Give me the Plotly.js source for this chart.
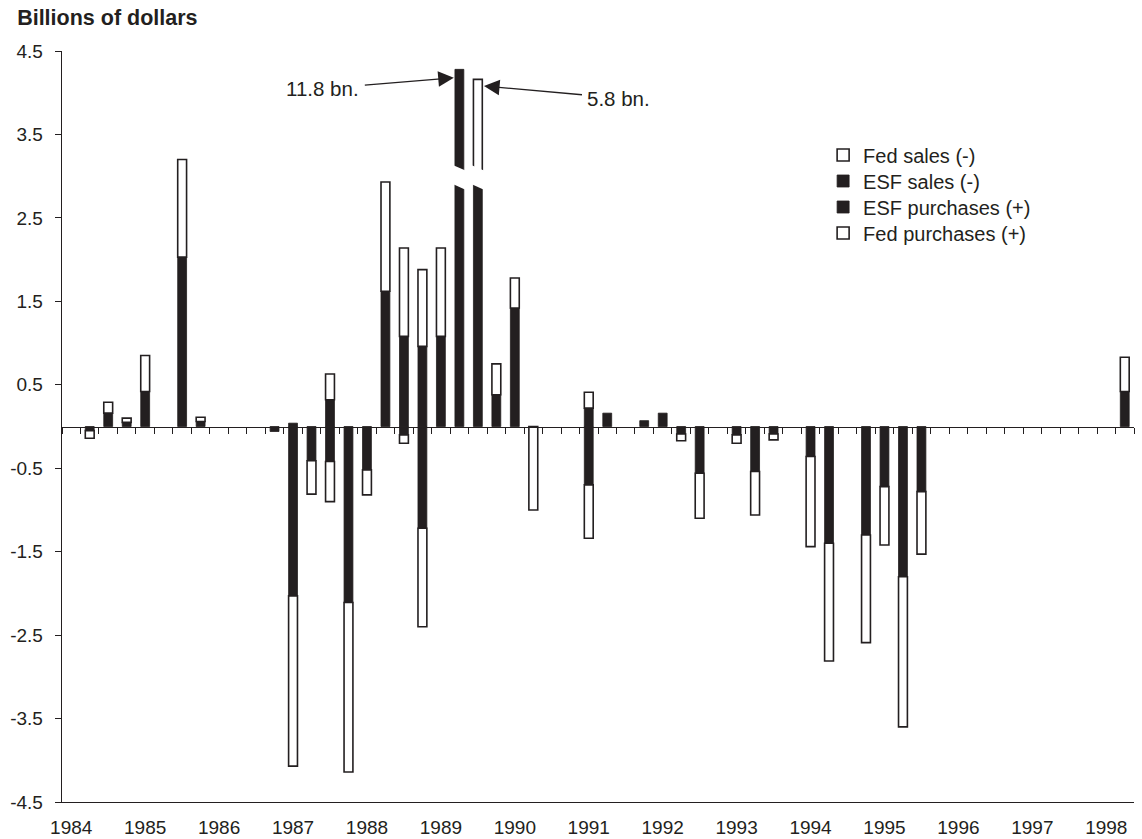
<!DOCTYPE html>
<html>
<head>
<meta charset="utf-8">
<script src="https://cdn.plot.ly/plotly-3.0.1.min.js"></script>
<style>html,body{margin:0;padding:0;background:#fff;}#chart{width:1142px;height:839px;}</style>
</head>
<body>
<div id="chart"></div>
<script>
// Quarterly categories 1984Q1 .. 1998Q2
var years = [1984,1985,1986,1987,1988,1989,1990,1991,1992,1993,1994,1995,1996,1997,1998];
var quarters = [];
years.forEach(function(y){ ['Q1','Q2','Q3','Q4'].forEach(function(q){ if(!(y===1998 && (q==='Q3'||q==='Q4'))) quarters.push(y+q); }); });

// Values in billions of dollars (as drawn; two 1989 bars are drawn with a scale break)
var esfSales = [null,-0.05,null,null, null,null,null,null, null,null,null,-0.06,
  -2.03,-0.41,-0.42,-2.11, -0.52,null,-0.10,-1.22, null,null,null,null, null,null,null,null,
  -0.70,null,null,null, null,-0.09,-0.56,null, -0.10,-0.54,-0.09,null, -0.36,-1.40,null,-1.30,
  -0.72,-1.80,-0.78,null, null,null,null,null, null,null,null,null, null,null];
var fedSales = [null,-0.09,null,null, null,null,null,null, null,null,null,null,
  -2.04,-0.40,-0.48,-2.03, -0.30,null,-0.10,-1.18, null,null,null,null, null,-1.00,null,null,
  -0.64,null,null,null, null,-0.08,-0.54,null, -0.10,-0.52,-0.07,null, -1.08,-1.41,null,-1.29,
  -0.70,-1.80,-0.75,null, null,null,null,null, null,null,null,null, null,null];
var esfPurchases = [null,null,0.16,0.05, 0.42,null,2.03,0.06, null,null,null,null,
  0.04,null,0.32,null, null,1.62,1.08,0.96, 1.08,4.28,3.00,0.38, 1.42,null,null,null,
  0.22,0.16,null,0.07, 0.16,null,null,null, null,null,null,null, null,null,null,null,
  null,null,null,null, null,null,null,null, null,null,null,null, null,0.42];
var fedPurchases = [null,null,0.13,0.05, 0.43,null,1.17,0.05, null,null,null,null,
  null,null,0.31,null, null,1.31,1.06,0.92, 1.06,null,1.16,0.37, 0.36,null,null,null,
  0.19,null,null,null, null,null,null,null, null,null,null,null, null,null,null,null,
  null,null,null,null, null,null,null,null, null,null,null,null, null,0.41];

var yTickVals = [-4.5,-3.5,-2.5,-1.5,-0.5,0.5,1.5,2.5,3.5,4.5];
var yTickLabels = ['-4.5','-3.5','-2.5','-1.5','-0.5','0.5','1.5','2.5','3.5','4.5'];

// Broken (off-scale) bars and their true totals
var breakQuarters = ['1989Q2','1989Q3'];
var breakLabels = ['11.8 bn.','5.8 bn.'];
var breakBand = [2.87, 3.10]; // value band removed by the break

var INK = '#231f20';
var FONT = 'Liberation Sans, Arial, Helvetica, sans-serif';
var xIdx = quarters.map(function(q,i){ return i; });

function barTrace(name, vals, dark, legendId){
  return {type:'bar', name:name, x:xIdx, y:vals, legend:legendId,
    marker:{color: dark ? INK : '#ffffff', line:{color:INK, width: dark ? 0.8 : 1.6}},
    hoverinfo:'skip'};
}
var data = [
  barTrace('ESF sales (-)', esfSales, true, 'legend2'),
  barTrace('ESF purchases (+)', esfPurchases, true, 'legend3'),
  barTrace('Fed sales (-)', fedSales, false, 'legend'),
  barTrace('Fed purchases (+)', fedPurchases, false, 'legend4'),
  // carrier for the zero-line axis (no marks)
  {type:'scatter', mode:'markers', x:[], y:[], xaxis:'x2', yaxis:'y', showlegend:false, hoverinfo:'skip'}
];

var yearTickVals = [], yearTickText = [];
quarters.forEach(function(q,i){ if(q.slice(4)==='Q1'){ yearTickVals.push(i); yearTickText.push(q.slice(0,4)); } });
var boundaryTicks = [];
for (var b = 0; b <= quarters.length; b++) boundaryTicks.push(b - 0.5);

var shapes = breakQuarters.map(function(q){
  var i = quarters.indexOf(q), x0 = i - 0.36, x1 = i + 0.36, tilt = 0.07;
  return {type:'path', xref:'x', yref:'y', layer:'above',
    path:'M'+x0+','+(breakBand[1]+tilt/2)+' L'+x1+','+(breakBand[1]-tilt/2)+' L'+x1+','+(breakBand[0]-tilt/2)+' L'+x0+','+(breakBand[0]+tilt/2)+' Z',
    fillcolor:'#ffffff', line:{width:0}};
});

var i1 = quarters.indexOf(breakQuarters[0]), i2 = quarters.indexOf(breakQuarters[1]);
var annotations = [
  {x:i1-0.3, y:(esfPurchases[i1]||0)-0.1, xref:'x', yref:'y', text:breakLabels[0], showarrow:true,
   ax:-131, ay:11, arrowhead:2, arrowsize:2.4, arrowwidth:1.3, arrowcolor:INK, standoff:0, startstandoff:4,
   font:{family:FONT, size:20.5, color:INK}},
  {x:i2+0.33, y:(esfPurchases[i2]||0)+(fedPurchases[i2]||0)-0.08, xref:'x', yref:'y', text:breakLabels[1], showarrow:true,
   ax:135, ay:12, arrowhead:2, arrowsize:2.4, arrowwidth:1.3, arrowcolor:INK, standoff:0, startstandoff:4,
   font:{family:FONT, size:20.5, color:INK}}
];

function legendAt(centerPx){
  return {x:0.71, xanchor:'left', y:(802 - centerPx)/751, yanchor:'middle', bgcolor:'rgba(0,0,0,0)',
    font:{family:FONT, size:20, color:INK}, borderwidth:0};
}

var layout = {
  width:1142, height:839,
  margin:{l:62, r:8, t:51, b:37},
  paper_bgcolor:'#ffffff', plot_bgcolor:'#ffffff',
  font:{family:FONT, color:INK, size:19},
  title:{text:'Billions of dollars', xref:'container', yref:'container', x:0.015, xanchor:'left', y:0.979, yanchor:'middle',
    font:{family:FONT, size:21.5, weight:'bold', color:INK}},
  barmode:'relative', bargap:0.52,
  showlegend:true,
  legend:legendAt(155), legend2:legendAt(181), legend3:legendAt(207), legend4:legendAt(233),
  xaxis:{range:[-0.5, quarters.length-0.5], tickmode:'array', tickvals:yearTickVals, ticktext:yearTickText,
    ticks:'outside', ticklen:8, tickcolor:'rgba(0,0,0,0)', showline:true, linecolor:INK, linewidth:1.3,
    showgrid:false, zeroline:false, tickfont:{family:FONT, size:19, color:INK}, fixedrange:true},
  xaxis2:{overlaying:'x', anchor:'free', position:0.5, side:'bottom', range:[-0.5, quarters.length-0.5],
    tickmode:'array', tickvals:boundaryTicks, ticks:'outside', ticklen:6, tickwidth:1, tickcolor:INK,
    showline:true, linecolor:INK, linewidth:1.3, showticklabels:false, showgrid:false, zeroline:false, fixedrange:true},
  yaxis:{range:[-4.5,4.5], tickmode:'array', tickvals:yTickVals, ticktext:yTickLabels, ticks:'outside', ticklen:6,
    tickcolor:INK, showline:true, linecolor:INK, linewidth:1.3, showgrid:false, zeroline:false,
    ticklabelstandoff:8, tickfont:{family:FONT, size:19, color:INK}, fixedrange:true},
  shapes:shapes,
  annotations:annotations
};
Plotly.newPlot('chart', data, layout, {staticPlot:true, displayModeBar:false});
</script>
</body>
</html>
